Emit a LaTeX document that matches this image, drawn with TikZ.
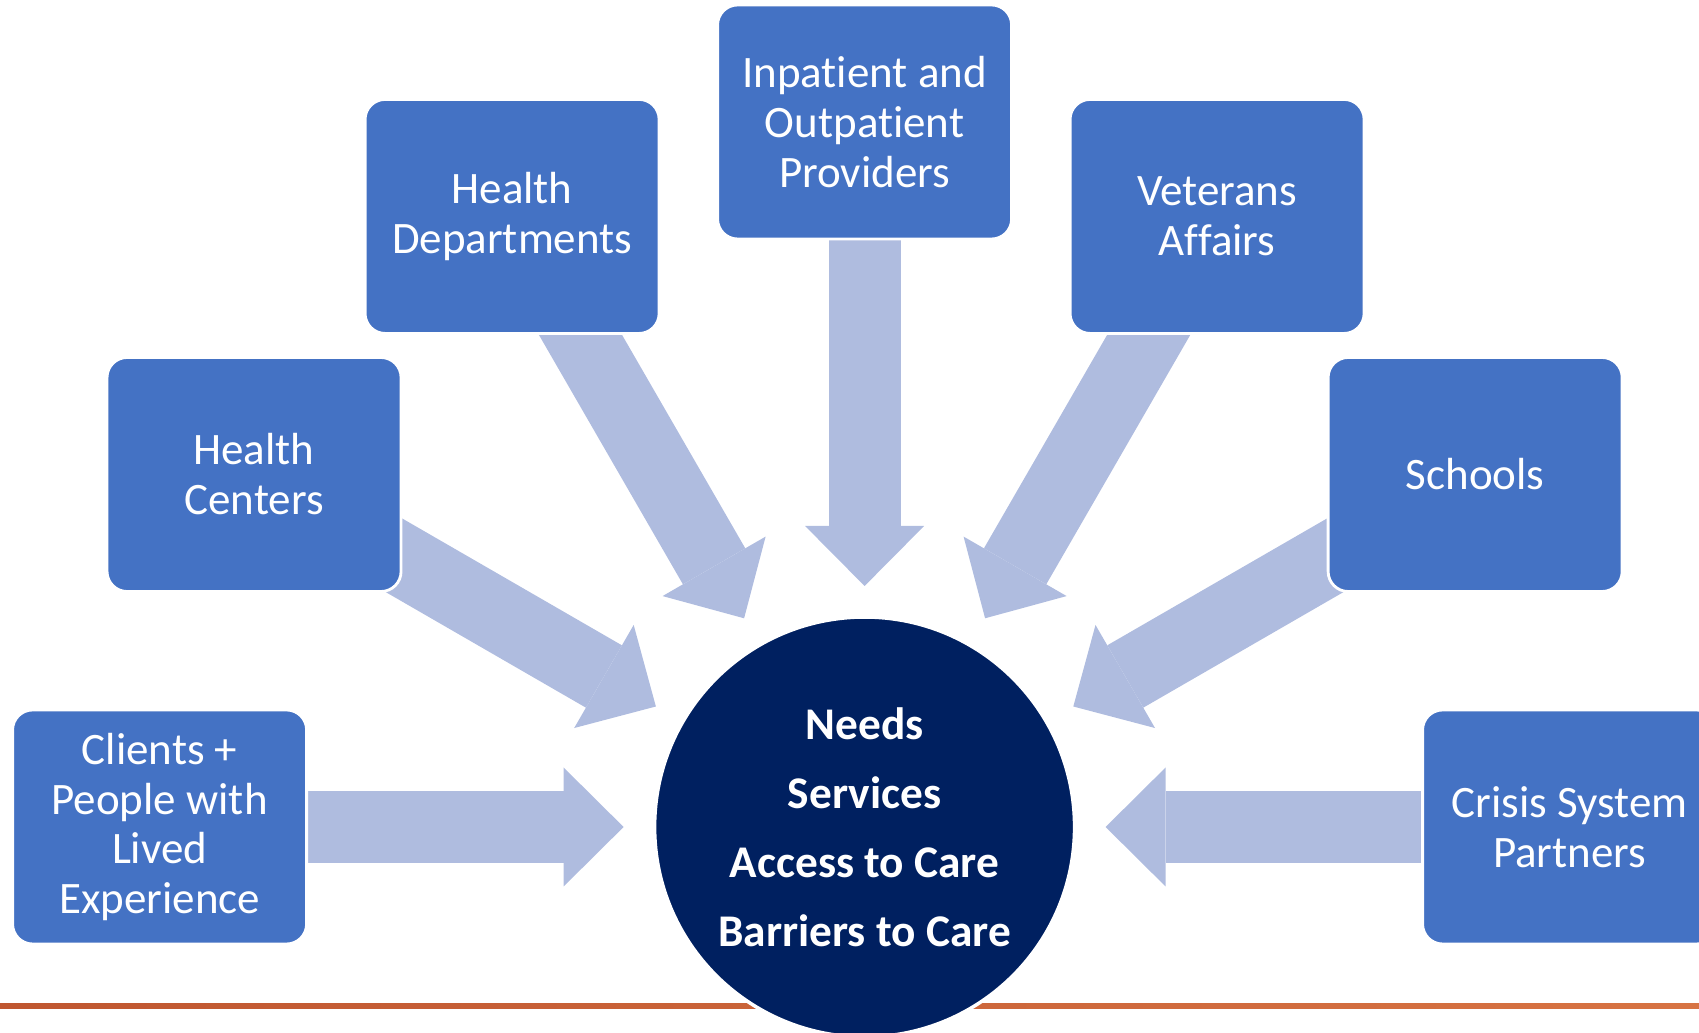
\documentclass[tikz,border=0pt]{standalone}
\usepackage{fontspec}
\setmainfont{Carlito}[Ligatures={NoCommon,NoContextual,NoRare}, Contextuals=NoAlternate]
\usetikzlibrary{arrows.meta,calc,backgrounds}
\definecolor{boxblue}{HTML}{4472C4}
\definecolor{feedblue}{HTML}{AFBCDF}
\definecolor{hubnavy}{HTML}{002060}
\definecolor{rulestart}{HTML}{BF5630}
\definecolor{ruleend}{HTML}{D77343}

\begin{document}
\begin{tikzpicture}[
    partner/.style={rectangle, rounded corners=0.2cm, fill=boxblue, draw=white, line width=0.8pt,
      minimum width=2.94cm, minimum height=2.34cm, inner sep=0pt, align=center, text=white,
      font=\fontsize{12.8}{14.2}\selectfont},
    hubnode/.style={circle, fill=hubnavy, draw=white, line width=1pt, minimum size=4.2cm,
      inner sep=0pt, align=center, text=white, font=\bfseries\fontsize{12.9}{19.6}\selectfont},
    feed/.style={feedblue, line width=0.72cm,
      -{Triangle[width=1.19cm, length=0.6cm, line width=0pt]}}]
  \useasboundingbox (0,0) rectangle (16.99,10.33);
  \clip (0,0) rectangle (16.99,10.33);
  \coordinate (c) at (8.646,2.06);
  \foreach \ang/\name/\txt in {180/clients/{Clients +\\People with\\Lived\\Experience},
      150/hcenters/{Health\\Centers}, 120/hdepts/{Health\\Departments},
      90/providers/{Inpatient and\\Outpatient\\Providers}, 60/veterans/{Veterans\\Affairs},
      30/schools/{Schools}, 0/crisis/{Crisis System\\Partners}}
    \node[partner] (\name) at ($(c)+(\ang:7.05)$) {\txt};
  \begin{pgfonlayer}{background}
    \shade[left color=rulestart, right color=ruleend] (0,0.24) rectangle (16.99,0.29);
    \foreach \name in {clients,hcenters,hdepts,providers,veterans,schools,crisis}
      \draw[feed] (\name.center) -- ($(c)!2.41cm!(\name)$);
  \end{pgfonlayer}
  \node[hubnode] (hub) at (c) {Needs\\Services\\Access to Care\\Barriers to Care};
\end{tikzpicture}
\end{document}
